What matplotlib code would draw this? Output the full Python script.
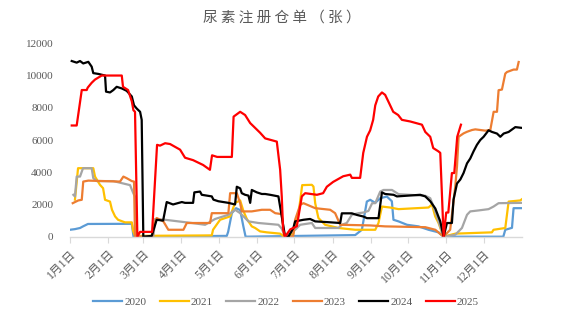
import matplotlib
matplotlib.use("Agg")
import matplotlib.pyplot as plt

# ---- data (day of year, value) ----
days_2020 = [0, 4, 8.1, 10.5, 14.5, 49.9, 51.3, 126.6, 127.7, 130.7, 134.1, 137.4, 140, 141.8, 230.3, 235.7, 239.7,
             242.4, 246.5, 250.5, 255.9, 259.9, 261.2, 265.3, 272.1, 281.4, 289.5, 297.6, 301.6, 349.9, 351.5, 356.9,
             358.2, 365]
vals_2020 = [430, 470, 540, 640, 790, 800, 0, 50, 300, 1460, 1770, 1650, 640, 0, 100, 430, 2180,
             2290, 2100, 2390, 2490, 2200, 1050, 950, 740, 640, 430, 270, 0, 0, 430, 550,
             1770, 1770]

days_2021 = [4, 6.5, 18.8, 20.2, 24.2, 26.7, 28.3, 32.3, 33.9, 36.4, 38.8, 44.4, 49.9, 51.1, 52.5, 114.5, 115.5,
             121.2, 129.3, 133.3, 137.4, 140, 142.8, 146.8, 149.5, 153.5, 158.9, 169.7, 172.9, 180.4, 184.5, 187.5,
             195.3, 196.6, 198, 200.6, 206, 216.8, 230.3, 246.5, 249.1, 251.9, 258.6, 265.3, 289.5, 292.3, 294.9,
             297.6, 301.6, 311.1, 340.7, 342, 351.5, 354.2, 363.6, 365]
vals_2021 = [2300, 4250, 4250, 3730, 3220, 3010, 2290, 2180, 1670, 1260, 1050, 890, 890, 330, 50, 80, 430,
             1050, 1260, 2100, 2250, 1600, 1100, 640, 540, 330, 270, 190, 0, 200, 1400, 3200,
             3220, 3110, 2080, 1160, 740, 540, 430, 430, 850, 1870, 1810, 1710, 1810, 2000, 1260,
             850, 0, 190, 270, 430, 540, 2180, 2250, 2330]

days_2022 = [2.7, 4, 5.4, 8.1, 10.5, 17.5, 18.8, 21.6, 35, 43.1, 48.5, 51.1, 52.5, 53.9, 67.3, 68.7, 76.8, 87.5,
             98.3, 109.1, 117.2, 127.9, 133.3, 137.4, 141.4, 144.1, 152.2, 168.3, 171, 173.7, 181.8, 185.9, 195.3,
             198, 216.8, 219.5, 223.5, 227.6, 233, 237, 241, 244, 246.5, 250.5, 253.2, 260, 265.3, 286.9, 290.9,
             293.6, 297.6, 301.6, 311.1, 316.5, 320.6, 323.2, 329.9, 338, 342, 346.1, 365]
vals_2022 = [2600, 2500, 3730, 3730, 4250, 4250, 3630, 3450, 3450, 3300, 3200, 2700, 2490, 0, 0, 1100, 1050, 950,
             850, 740, 1100, 1360, 1670, 1460, 1160, 950, 850, 740, 500, 0, 430, 740, 850,
             540, 540, 740, 850, 1360, 1460, 1500, 1600, 2080, 2080, 2800, 2900, 2900, 2640, 2540, 2390,
             1870, 950, 0, 120, 540, 1360, 1570, 1630, 1710, 1870, 2080, 2100]

days_2023 = [2.2, 6.7, 9.5, 10.7, 14.8, 40.4, 43.1, 45.8, 49.9, 51.7, 52.5, 66.3, 67.3, 70, 75.4, 79.4, 91.6, 94.3,
             113.1, 114.5, 127.9, 129.3, 134.7, 137.4, 138.7, 146.8, 154.9, 161.6, 165.7, 171, 172.9, 180.2, 181.8,
             185.9, 188.5, 198, 210.1, 214.1, 218.2, 242.4, 254.5, 286.9, 295, 301.6, 307, 311.1, 312.5, 313.8,
             317.8, 320.6, 324.6, 327.3, 335.4, 339.4, 342.1, 344.8, 346.1, 348.8, 351.5, 352.9, 358.2, 360.9,
             362.3]
vals_2023 = [2080, 2250, 2290, 3420, 3480, 3420, 3730, 3630, 3450, 3420, 0, 0, 640, 1160, 950, 430, 430, 850,
             850, 1460, 1460, 2700, 2700, 2080, 1570, 1570, 1670, 1670, 1460, 1400, 0, 0, 1050,
             1980, 2080, 1770, 1670, 1460, 740, 700, 640, 590, 430, 0, 430, 3110, 4350, 6200,
             6410, 6510, 6620, 6660, 6580, 6620, 7750, 7750, 9090, 9130, 10120, 10220, 10370, 10370,
             10840]

days_2024 = [1.4, 5.4, 8.1, 10.7, 14.8, 17.5, 18.8, 22.9, 28.3, 29.1, 32.3, 35, 37.7, 41.8, 45.8, 49.9, 51.7,
             53.9, 56.6, 57.9, 59.2, 66, 70, 75.2, 78.1, 83.2, 90.3, 92.9, 99.4, 100.4, 105, 106.4, 114.5, 115.8,
             119.8, 127.9, 133.3, 134.7, 137.4, 138.7, 141.4, 144.1, 145.5, 146.8, 150.9, 154.9, 157.6, 161.6,
             168.3, 173.7, 176.4, 180.4, 181.8, 188.5, 193.9, 198, 208.7, 218.2, 219.5, 227.6, 231.7, 237, 239.8,
             249.1, 251.9, 254.5, 261.3, 264, 282.8, 286.9, 290.9, 295, 299, 301.7, 304.4, 308.4, 309.7, 312.5,
             315.2, 317.8, 320.6, 323.2, 325.9, 328.6, 331.3, 334, 338, 340.8, 344.8, 347.5, 350.2, 354.2, 356.9,
             359.6, 365]
vals_2024 = [10900, 10800, 10900, 10750, 10850, 10550, 10150, 10100, 10000, 9000, 8950, 9100, 9300, 9200, 9050,
             8700, 8150, 7950, 7750, 7250, 0, 50, 1050, 1000, 2150, 2000, 2150, 2100, 2100, 2750, 2800, 2600,
             2500, 2300, 2200, 2100, 2000, 3100, 3000, 2700, 2600, 2550, 2100, 2900, 2750, 2650, 2650, 2600,
             2500, 0, 0, 550, 950, 1050, 1100, 950, 900, 850, 1450, 1450, 1350, 1250, 1150, 1150, 2750, 2650,
             2600, 2500, 2600, 2500, 2200, 1750, 950, 0, 850, 850, 2300, 3300, 3550, 3950, 4550, 4850, 5300,
             5700, 6000, 6200, 6600, 6500, 6400, 6200, 6400, 6500, 6650, 6800, 6750]

days_2025 = [1.4, 5.4, 9.5, 13.5, 14.3, 17.5, 20.2, 25.6, 41.8, 42.8, 46.9, 49.9, 51.2, 52.5, 54.4, 56.6, 66.3,
             70.3, 72.7, 76.8, 80.8, 88.9, 92.9, 99.4, 107.5, 113, 114.7, 118.8, 130.7, 132.1, 137.4, 141.4, 145.5,
             153.5, 157.6, 167, 169.7, 171, 172.1, 173.7, 177.8, 183.2, 187.2, 189.9, 199.4, 204.4, 207.4, 212.5,
             220.6, 226.3, 227.6, 234.3, 236.8, 239.8, 242.4, 244.8, 246.5, 248.9, 251.9, 254.5, 257, 261, 265,
             268, 274.7, 284.2, 286.9, 290.9, 293.3, 297.4, 299, 301.7, 303.8, 305.5, 308.4, 310.3, 312.7, 315.7]
vals_2025 = [6900, 6900, 9100, 9100, 9250, 9550, 9750, 10000, 10000, 9300, 9100, 8400, 7850, 7750, 0, 300, 300,
             5700, 5650, 5800, 5750, 5400, 4900, 4750, 4450, 4150, 5050, 4950, 4950, 7450, 7750, 7550, 7050,
             6450, 6100, 5900, 4150, 2500, 450, 0, 450, 650, 2500, 2700, 2600, 2700, 3100, 3400,
             3750, 3850, 3650, 3650, 5200, 6200, 6600, 7250, 8150, 8700, 8950, 8800, 8400, 7750, 7550,
             7250, 7150, 6950, 6500, 6200, 5500, 5300, 5200, 0, 1500, 1500, 3950, 3950, 6200, 6950]

years = ["2020", "2021", "2022", "2023", "2024", "2025"]
colors = ["#5B9BD5", "#FFC000", "#A5A5A5", "#ED7D31", "#000000", "#FF0000"]
series = [(days_2020, vals_2020), (days_2021, vals_2021), (days_2022, vals_2022),
          (days_2023, vals_2023), (days_2024, vals_2024), (days_2025, vals_2025)]

month_starts = [0, 31, 59, 90, 120, 151, 181, 212, 243, 273, 304, 334]
month_labels = [f"{m}月1日" for m in range(1, 13)]
y_ticks = [0, 2000, 4000, 6000, 8000, 10000, 12000]

title = "尿素注册仓单（张）"

# ---- figure ----
fig = plt.figure(figsize=(5.63, 3.15), dpi=100)
ax = fig.add_axes([70 / 563, 1 - 236.7 / 315, (522 - 70) / 563, (236.7 - 43.3) / 315])

for (d, v), name, c in zip(series, years, colors):
    ax.plot(d, v, color=c, lw=1.6, label=name, solid_joinstyle="round")

ax.set_xlim(0, 365)
ax.set_ylim(0, 12000)
ax.set_yticks(y_ticks)
ax.set_yticklabels([str(t) for t in y_ticks], family=["Liberation Serif", "DejaVu Serif"],
                   fontsize=8, color="#595959")
ax.set_xticks(month_starts)
ax.set_xticklabels(month_labels, rotation=45, ha="right", va="top", rotation_mode="anchor",
                   family=["Liberation Serif", "Noto Sans CJK SC"], fontsize=8.5, color="#595959")
ax.tick_params(axis="y", length=0, pad=12)
ax.tick_params(axis="x", length=4, color="#D9D9D9", pad=4)

for s in ["top", "right", "left"]:
    ax.spines[s].set_visible(False)
ax.spines["bottom"].set_color("#D9D9D9")
ax.spines["bottom"].set_linewidth(1)

fig.text(282 / 563, 1 - 18 / 315, " ".join(title), ha="center", va="center", fontsize=10.5,
         color="#595959", family=["Noto Sans CJK SC", "DejaVu Sans"])

leg = fig.legend(loc="center", bbox_to_anchor=(286 / 563, 1 - 302 / 315), ncol=6, frameon=False,
                 handlelength=2.6, columnspacing=1.2, handletextpad=0.2,
                 prop={"family": "Liberation Serif", "size": 8})
for t in leg.get_texts():
    t.set_color("#595959")

fig.savefig("out.png", dpi=100)
